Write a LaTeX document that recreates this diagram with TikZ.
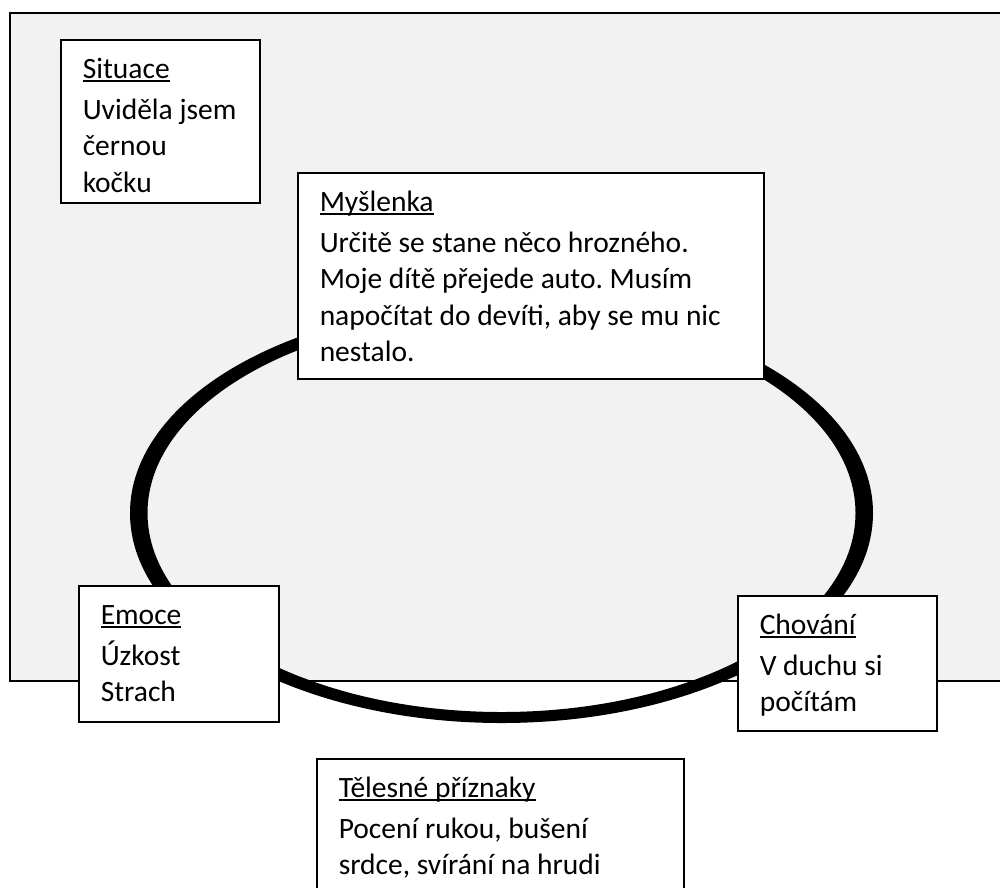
\documentclass[tikz,border=0pt]{standalone}
\usepackage{fontspec}
\setmainfont{Carlito}
\definecolor{bggray}{HTML}{F2F2F2}
\newdimen\bw
\newcommand{\ttl}[1]{\setbox0\hbox{#1}\rlap{\rule[-4pt]{\wd0}{2.2pt}}\box0}
\newcommand{\tline}[1]{\hbox to \bw{#1\hfil}}
\newcommand{\tbody}[3]{\bw=#1\relax\vtop{\tline{\ttl{#2}}\vskip4.5pt #3}}
\newcommand{\bodyfnt}{\fontsize{29.5}{36.5}\selectfont\frenchspacing}
\tikzset{
  box/.style={draw, line width=1.5pt, fill=white, anchor=north west,
    inner xsep=22pt, inner ysep=13pt, text height=25.5pt,
    font=\bodyfnt},
  ring/.style={fill=black, even odd rule},
  frame/.style={draw=black, line width=1.8pt, fill=bggray}
}
\begin{document}
\begin{tikzpicture}[x=1pt,y=-1pt]
\useasboundingbox (0,0) rectangle (1000,887);
\clip (0,0) rectangle (1000,887);
\draw[frame] (10,13) rectangle (1020,681);
\fill[ring] (501.5,513) ellipse [x radius=371.5, y radius=210]
            (501.5,513) ellipse [x radius=354, y radius=199];
\node[box, text depth=111.5pt] (sit) at (60,39)
  {\tbody{155pt}{Situace}{\tline{Uviděla jsem}\tline{černou}\tline{kočku}}};
\node[box, text depth=154.5pt] (mys) at (297,172)
  {\tbody{422pt}{Myšlenka}{\tline{Určitě se stane něco hrozného.}\tline{Moje dítě přejede auto. Musím}\tline{napočítat do devíti, aby se mu nic}\tline{nestalo.}}};
\node[box, text depth=84.5pt] (emo) at (78,585)
  {\tbody{156pt}{Emoce}{\tline{Úzkost}\tline{Strach}}};
\node[box, text depth=83.5pt] (cho) at (737,595)
  {\tbody{155pt}{Chování}{\tline{V duchu si}\tline{počítám}}};
\node[box, text depth=108.5pt] (tel) at (316,758)
  {\tbody{323pt}{Tělesné příznaky}{\tline{Pocení rukou, bušení}\tline{srdce, svírání na hrudi}}};
\end{tikzpicture}
\end{document}
